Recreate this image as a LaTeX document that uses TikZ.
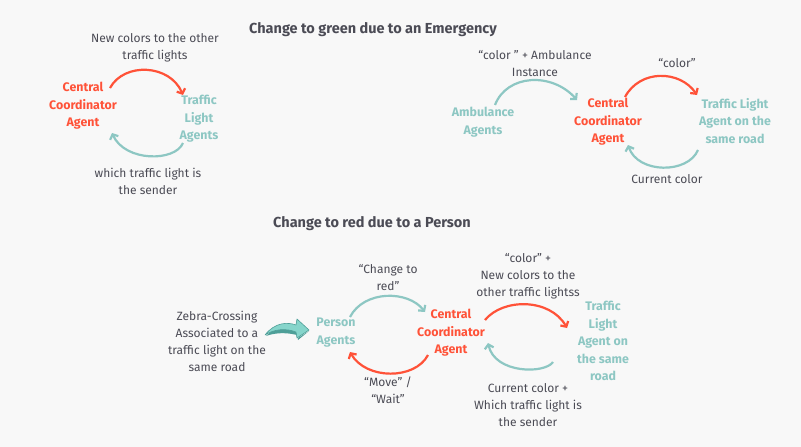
\documentclass[tikz,border=0pt]{standalone}
\usepackage{fontspec}
\setmainfont{Fira Sans}
\usetikzlibrary{arrows.meta}
\definecolor{bg}{HTML}{F8F8F8}
\definecolor{cred}{HTML}{FF5238}
\definecolor{cteal}{HTML}{8DC7C3}
\definecolor{ctext}{HTML}{4B4B55}
\definecolor{carrowfill}{HTML}{86D5CB}
\definecolor{carrowdark}{HTML}{4E9F98}
\begin{document}
\begin{tikzpicture}[x=1pt,y=-1pt,
  agentred/.style={text=cred,font=\bfseries\fontsize{12.4}{17.5}\selectfont,align=center,inner sep=0pt},
  agentteal/.style={text=cteal,font=\bfseries\fontsize{12.4}{17.5}\selectfont,align=center,inner sep=0pt},
  msg/.style={text=ctext,font=\fontsize{12}{17}\selectfont,align=center,inner sep=0pt},
  ttl/.style={text=ctext,font=\bfseries\fontsize{14.5}{17}\selectfont,inner sep=0pt},
  redarc/.style={draw=cred,line width=2.2pt,-{Straight Barb[length=4pt,width=9pt]}},
  tealarc/.style={draw=cteal,line width=2.2pt,-{Straight Barb[length=4pt,width=9pt]}}]
\fill[bg] (0,0) rectangle (801,447);
\useasboundingbox (0,0) rectangle (801,447);

% titles
\node[ttl] (t1) at (373,30) {Change to green due to an Emergency};
\node[ttl] (t2) at (372,224) {Change to red due to a Person};

% panel 1
\node[agentred] (cca1) at (83,106) {Central\\Coordinator\\Agent};
\node[agentteal] (tla1) at (199,119) {Traffic\\Light\\Agents};
\node[msg] (m1a) at (155,47.5) {New colors to the other\\traffic lights};
\node[msg] (m1b) at (148,181) {which traffic light is\\the sender};
\coordinate (p1a) at (110,88); \coordinate (p1b) at (183,95);
\coordinate (p1c) at (183,143); \coordinate (p1d) at (112,133);
\draw[redarc] (p1a) .. controls (124,62) and (170,64) .. (p1b);
\draw[tealarc] (p1c) .. controls (175,162) and (125,162) .. (p1d);

% panel 2
\node[agentteal] (amb) at (483,122) {Ambulance\\Agents};
\node[msg] (m2a) at (535,63.5) {“color ” + Ambulance\\Instance};
\node[agentred] (cca2) at (608,122) {Central\\Coordinator\\Agent};
\node[msg] (m2b) at (677,63) {“color”};
\node[agentteal] (tla2) at (735,121) {Traffic Light\\Agent on the\\same road};
\node[msg] (m2c) at (667,179) {Current color};
\coordinate (p2a) at (495,105); \coordinate (p2b) at (577,100);
\coordinate (p2c) at (625,97); \coordinate (p2d) at (697,95);
\coordinate (p2e) at (698,150); \coordinate (p2f) at (628,145);
\draw[tealarc] (p2a) .. controls (507,74) and (552,72) .. (p2b);
\draw[redarc] (p2c) .. controls (640,69) and (680,70) .. (p2d);
\draw[tealarc] (p2e) .. controls (688,174) and (638,174) .. (p2f);

% panel 3
\node[msg] (zeb) at (217,341.5) {Zebra-Crossing\\Associated to a\\traffic light on the\\same road};
\node[agentteal] (per) at (336,332.5) {Person\\Agents};
\node[msg] (m3a) at (388,277.5) {“Change to\\red”};
\node[agentred] (cca3) at (451,333) {Central\\Coordinator\\Agent};
\node[msg] (m3b) at (388,390) {“Move” /\\“Wait”};
\node[msg] (m3c) at (528,276.5) {“color” +\\New colors to the\\other traffic lightss};
\node[agentteal] (tla3) at (603,341) {Traffic\\Light\\Agent on\\the same\\road};
\node[msg] (m3d) at (528,405.5) {Current color +\\Which traffic light is\\the sender};
\coordinate (p3a) at (350,317); \coordinate (p3b) at (425,312);
\coordinate (p3c) at (428,355); \coordinate (p3d) at (350,352);
\coordinate (p3e) at (485,320); \coordinate (p3f) at (567,328);
\coordinate (p3g) at (553,362); \coordinate (p3h) at (488,343);
\draw[tealarc] (p3a) .. controls (364,290) and (408,290) .. (p3b);
\draw[redarc] (p3c) .. controls (415,380) and (366,380) .. (p3d);
\draw[redarc] (p3e) .. controls (503,298) and (550,298) .. (p3f);
\draw[tealarc] (p3g) .. controls (545,374) and (495,374) .. (p3h);

% fat 3D arrow
\fill[carrowdark] (266,336) .. controls (276,325) and (288,326) .. (297,330) -- (298,340) -- (309,331) -- (298,338) -- (297,335) .. controls (285,332) and (274,333) .. cycle;
\filldraw[fill=carrowfill,draw=carrowdark,line width=0.6pt,line join=round]
  (265,335) .. controls (275,322) and (288,322) .. (296,325) -- (297,319) -- (309,330) -- (297,338) -- (296,332) .. controls (286,328) and (274,329) .. cycle;
\end{tikzpicture}
\end{document}
